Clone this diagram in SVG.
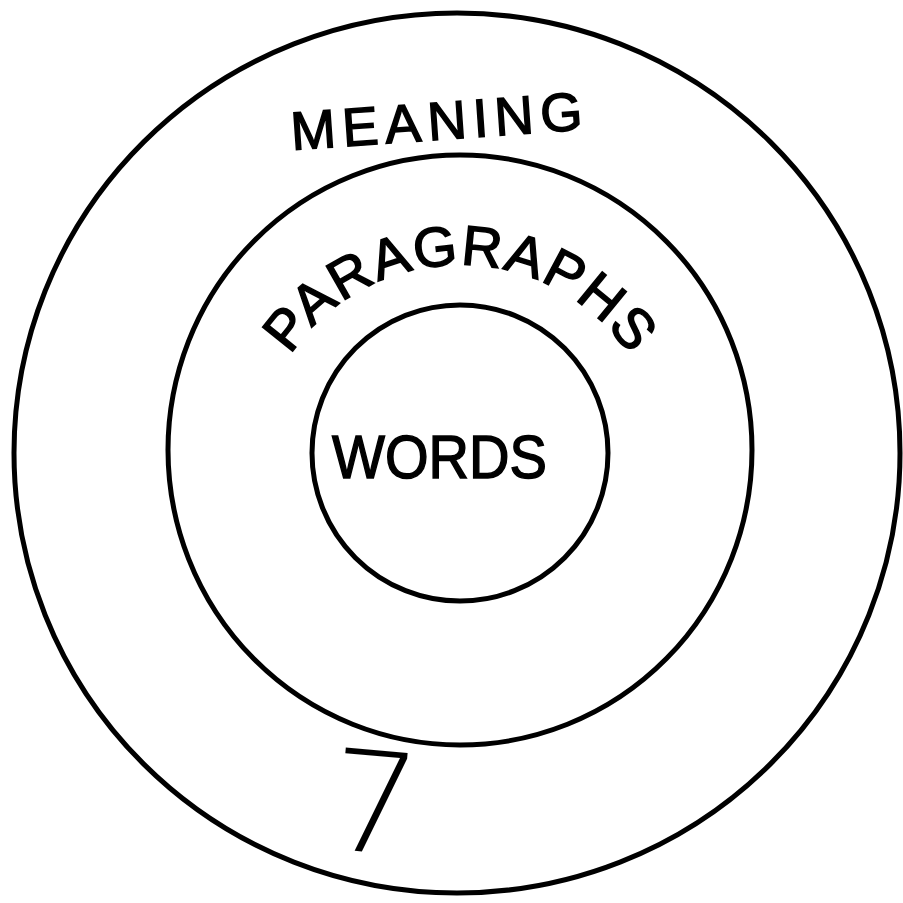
<svg xmlns="http://www.w3.org/2000/svg" xmlns:xlink="http://www.w3.org/1999/xlink" width="903" height="903" viewBox="0 0 903 903">
<style>
.ring{fill:none;stroke:#000;stroke-width:5}
.lbl{font-family:"Liberation Sans","DejaVu Sans",sans-serif;fill:#000;stroke:#000;stroke-width:1.5}
</style>
<defs>
<path id="arcP" d="M 255 470 A 205 205 0 0 1 665 470"/>
</defs>
<rect width="903" height="903" fill="#fff"/>
<g id="outer"><ellipse class="ring" cx="457" cy="453" rx="443" ry="440"/></g>
<g id="middle"><ellipse class="ring" cx="460" cy="450" rx="292" ry="295"/></g>
<g id="inner"><ellipse class="ring" cx="460" cy="453" rx="148" ry="148"/></g>
<g id="meaning"><text class="lbl" x="292" y="150" font-size="54" textLength="292" lengthAdjust="spacing" transform="rotate(-4 292 150)">MEANING</text></g>
<g id="paragraphs"><text class="lbl" font-size="56"><textPath xlink:href="#arcP" startOffset="50%" text-anchor="middle" textLength="400" lengthAdjust="spacing">PARAGRAPHS</textPath></text></g>
<g id="words"><text class="lbl" x="332" y="478" font-size="62" textLength="215" lengthAdjust="spacingAndGlyphs">WORDS</text></g>
<g id="pagenum"><text x="330" y="852" font-family="'DejaVu Sans',sans-serif" font-size="140" font-weight="200" fill="#000" transform="rotate(5 370 800)">7</text></g>
</svg>
